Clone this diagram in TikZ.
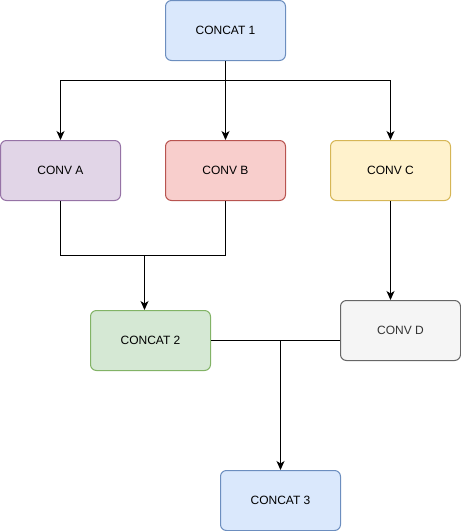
\documentclass[tikz,border=0pt]{standalone}
\usepackage{fontspec}
\setmainfont{Liberation Sans}
\usepackage{xcolor}
\usetikzlibrary{arrows.meta}

\definecolor{blueFill}{HTML}{DAE8FC}
\definecolor{blueLine}{HTML}{6C8EBF}
\definecolor{purpleFill}{HTML}{E1D5E7}
\definecolor{purpleLine}{HTML}{9673A6}
\definecolor{redFill}{HTML}{F8CECC}
\definecolor{redLine}{HTML}{B85450}
\definecolor{yellowFill}{HTML}{FFF2CC}
\definecolor{yellowLine}{HTML}{D6B656}
\definecolor{greenFill}{HTML}{D5E8D4}
\definecolor{greenLine}{HTML}{82B366}
\definecolor{grayFill}{HTML}{F5F5F5}
\definecolor{grayLine}{HTML}{666666}
\definecolor{grayText}{HTML}{333333}

\begin{document}
\begin{tikzpicture}[x=1pt, y=-1pt,
    block/.style={draw, rectangle, rounded corners=6pt, line width=1pt,
        minimum width=120pt, minimum height=60pt, inner sep=0pt,
        font=\fontsize{12pt}{14pt}\selectfont},
    link/.style={line width=1pt},
    arrow/.style={link, -{Stealth[length=9pt, width=8pt, inset=2.5pt]}}]
    \useasboundingbox (0,0) rectangle (461,531);

    % Top concatenation
    \node[block, fill=blueFill, draw=blueLine] (concat1) at (225.5,30.5) {CONCAT 1};
    % Convolution branches
    \node[block, fill=purpleFill, draw=purpleLine] (conva) at (60.5,170.5) {CONV A};
    \node[block, fill=redFill, draw=redLine] (convb) at (225.5,170.5) {CONV B};
    \node[block, fill=yellowFill, draw=yellowLine] (convc) at (390.5,170.5) {CONV C};
    % Middle layer
    \node[block, fill=greenFill, draw=greenLine] (concat2) at (150.5,340.5) {CONCAT 2};
    \node[block, fill=grayFill, draw=grayLine, text=grayText] (convd) at (400.5,330.5) {CONV D};
    % Bottom concatenation
    \node[block, fill=blueFill, draw=blueLine] (concat3) at (280.5,500.5) {CONCAT 3};

    % Junction points
    \coordinate (split1) at (225.5,80.5);
    \coordinate (joinab) at (144.5,255.5);
    \coordinate (join2) at (280.5,340.5);

    % Arrows
    \draw[link] (concat1) -- (split1);
    \draw[arrow] (split1) -| (conva);
    \draw[arrow] (split1) -- (convb);
    \draw[arrow] (split1) -| (convc);
    \draw[link] (conva) |- (joinab) -| (convb);
    \draw[arrow] (joinab) -- (joinab |- concat2.north);
    \draw[arrow] (convc) -- (convc |- convd.north);
    \draw[link] (concat2.east) -- (concat2.east -| convd.west);
    \draw[arrow] (join2) -- (concat3);
\end{tikzpicture}
\end{document}
